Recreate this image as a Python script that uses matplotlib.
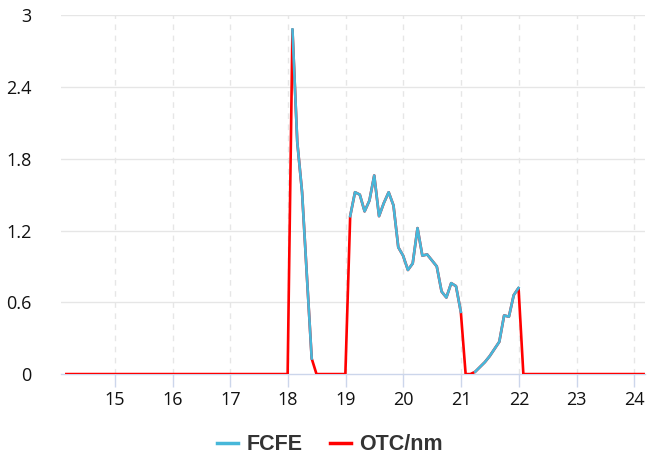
import numpy as np
import matplotlib
matplotlib.use("Agg")
import matplotlib.pyplot as plt
from matplotlib.lines import Line2D

# monthly sample grid
x_start = 14.16
n_points = 121

# OTC/nm, full series
otc = ([0.0] * 46
       + [0.0, 2.88, 1.94, 1.52, 0.82, 0.13]
       + [0.0] * 7
       + [1.32, 1.52, 1.50, 1.36, 1.45, 1.66, 1.32, 1.43, 1.52, 1.41, 1.06, 0.99,
          0.87, 0.925, 1.22, 0.99, 1.0, 0.95, 0.90, 0.69, 0.64, 0.76, 0.735, 0.52]
       + [0.0, 0.0]
       + [0.02, 0.06, 0.10, 0.15, 0.21, 0.27, 0.49, 0.48, 0.66, 0.72]
       + [0.0] * 26)

# FCFE only exists on the three active stretches (index ranges into the grid)
fcfe_ranges = [(47, 52), (59, 83), (85, 95)]

xticks = [15, 16, 17, 18, 19, 20, 21, 22, 23, 24]
yticks = [0, 0.6, 1.2, 1.8, 2.4, 3]

x = x_start + np.arange(n_points) / 12.0
otc = np.array(otc)
fcfe = np.full(n_points, np.nan)
for a, b in fcfe_ranges:
    fcfe[a:b] = otc[a:b]

blue = "#47b7d9"
red = "#ff0000"

fig = plt.figure(figsize=(6.47, 4.59), dpi=100)
ax = fig.add_axes([0.094, 0.185, 0.903, 0.782])

ax.plot(x, otc, color=red, lw=1.9, zorder=3, solid_joinstyle="round")
ax.plot(x, fcfe, color=blue, lw=1.9, zorder=4, solid_joinstyle="round")

ax.set_xlim(14.064, 24.185)
ax.set_ylim(0, 3)
ax.set_xticks(xticks)
ax.set_yticks(yticks)
ax.set_yticklabels(["0", "0.6", "1.2", "1.8", "2.4", "3"])

for y in yticks[1:]:
    ax.axhline(y, color="#e6e6e6", lw=1.0, zorder=1)
for xt in xticks:
    ax.axvline(xt, color="#e6e6e6", lw=1.0, ls=(0, (4, 4)), zorder=1)

for s in ["top", "right", "left"]:
    ax.spines[s].set_visible(False)
ax.spines["bottom"].set_color("#ccd6eb")
ax.spines["bottom"].set_linewidth(1.0)

ax.tick_params(axis="x", length=9, width=1, color="#ccd6eb", pad=3,
               labelsize=13, labelcolor="#111111")
ax.tick_params(axis="y", length=0, pad=21, labelsize=13, labelcolor="#111111")
for lab in ax.get_xticklabels() + ax.get_yticklabels():
    lab.set_family("Open Sans")

handles = [Line2D([], [], color=blue, lw=2.5),
           Line2D([], [], color=red, lw=2.5)]
leg = fig.legend(handles, ["FCFE", "OTC/nm"], loc="center",
                 bbox_to_anchor=(0.51, 0.031), ncol=2, frameon=False,
                 handlelength=0.95, handletextpad=0.4, columnspacing=1.3,
                 prop={"family": "Liberation Sans", "weight": "bold", "size": 15.5})
for t in leg.get_texts():
    t.set_color("#333333")

fig.savefig("out.png", dpi=100)
